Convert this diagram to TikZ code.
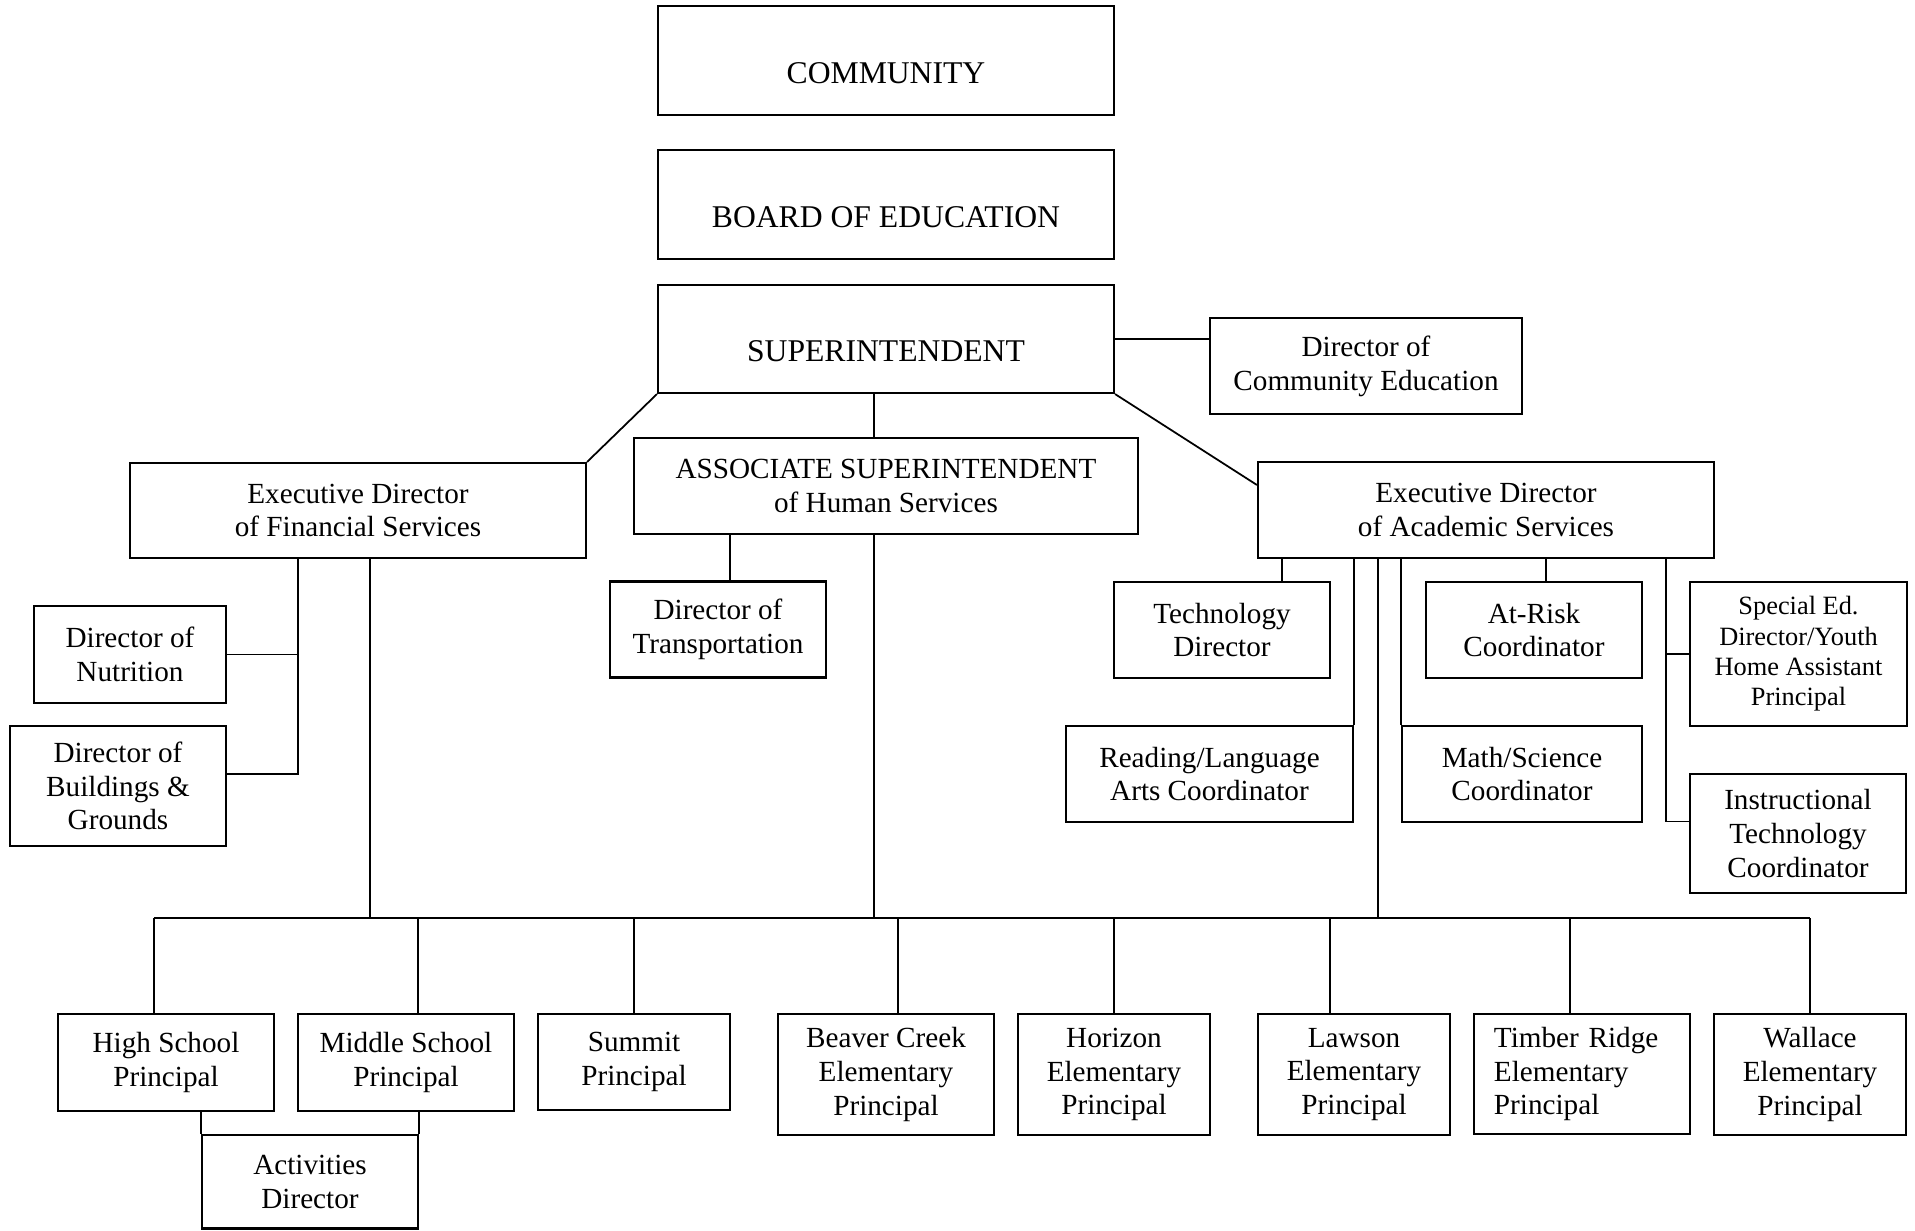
\documentclass[tikz,border=0pt]{standalone}
\usepackage{fontspec}
\setmainfont{Liberation Serif}
\usetikzlibrary{positioning}

\begin{document}
\begin{tikzpicture}[x=0.01cm, y=-0.01cm, font=\fontsize{8.3}{9.6}\selectfont,
  org/.style={draw, line width=0.6pt, inner sep=0pt, align=center},
  boxsize/.style 2 args={minimum width=#1*0.01cm, minimum height=#2*0.01cm},
  headbox/.style={org, font=\fontsize{9}{10.8}\selectfont, text height=0.45cm, text depth=0pt},
  link/.style={line width=0.5pt},
  busline/.style={line width=0.8pt}]
  \useasboundingbox (0,0) rectangle (1915,1230);
  % top of the chart
  \node[headbox, boxsize={456}{109}] (community) at (886,60.5) {COMMUNITY};
  \node[headbox, boxsize={456}{109}] (board) at (886,204.5) {BOARD OF EDUCATION};
  \node[headbox, boxsize={456}{108}] (super) at (886,339) {SUPERINTENDENT};
  \node[org, boxsize={312}{96}] (commed) at (1366,366) {Director of\\Community Education};
  % second level
  \node[org, boxsize={504}{96}] (assoc) at (886,486) {ASSOCIATE SUPERINTENDENT\\of Human Services};
  \node[org, boxsize={456}{95}] (fin) at (358,510.5) {Executive Director\\of Financial Services};
  \node[org, boxsize={456}{96}] (acad) at (1486,510) {Executive Director\\of Academic Services};
  % financial side
  \node[org, boxsize={192}{97}] (nutrition) at (130,654.5) {Director of\\Nutrition};
  \node[org, boxsize={216}{120}] (grounds) at (118,786) {Director of\\Buildings \&\\Grounds};
  % human services
  \node[org, boxsize={216}{96}] (transport) at (718,629.5) {Director of\\Transportation};
  % academic side
  \node[org, boxsize={216}{96}] (techdir) at (1222,630) {Technology\\Director};
  \node[org, boxsize={216}{96}] (atrisk) at (1534,630) {At-Risk\\Coordinator};
  \node[org, boxsize={217}{144}, font=\fontsize{7.5}{8.6}\selectfont] (speced) at (1798.5,654) {Special Ed.\\Director/Youth\\Home Assistant\\Principal};
  \node[org, boxsize={287}{96}] (reading) at (1209.5,774) {Reading/Language\\Arts Coordinator};
  \node[org, boxsize={240}{96}] (math) at (1522,774) {Math/Science\\Coordinator};
  \node[org, boxsize={216}{119}] (instr) at (1798,833.5) {Instructional\\Technology\\Coordinator};
  % principals
  \node[org, boxsize={216}{97}] (hs) at (166,1062.5) {High School\\Principal};
  \node[org, boxsize={216}{97}] (ms) at (406,1062.5) {Middle School\\Principal};
  \node[org, line width=0.8pt, boxsize={192}{96}] (summit) at (634,1062) {Summit\\Principal};
  \node[org, boxsize={216}{121}] (beaver) at (886,1074.5) {Beaver Creek\\Elementary\\Principal};
  \node[org, boxsize={192}{121}] (horizon) at (1114,1074.5) {Horizon\\Elementary\\Principal};
  \node[org, boxsize={192}{121}] (lawson) at (1354,1074.5) {Lawson\\Elementary\\Principal};
  \node[org, line width=0.8pt, align=left, text width=1.76cm, boxsize={216}{120}] (timber) at (1582,1074) {Timber Ridge\\Elementary\\Principal};
  \node[org, boxsize={192}{121}] (wallace) at (1810,1074.5) {Wallace\\Elementary\\Principal};
  \node[org, boxsize={216}{93.5}] (activities) at (310,1181.75) {Activities\\Director};

  % drop points
  \coordinate (bus) at (0,918);
  \coordinate (xtrans) at (730,0);
  \coordinate (xassoc) at (874,0);
  \coordinate (xfinA) at (298,0);
  \coordinate (xfinB) at (370,0);
  \coordinate (xtech) at (1282,0);
  \coordinate (xacad) at (1378,0);
  \coordinate (xrisk) at (1546,0);
  \coordinate (xspec) at (1666,0);

  % superintendent
  \draw[link] (super.east) -- (super.east -| commed.west);
  \draw[link] (super.south west) -- (fin.north east);
  \draw[link] (super.south east) -- ([yshift=0.25cm]acad.west);
  \draw[link] (xassoc |- super.south) -- (xassoc |- assoc.north);
  \draw[link] (xassoc |- assoc.south) -- (xassoc |- bus);
  \draw[link] (xtrans |- assoc.south) -- (xtrans |- transport.north);
  % financial
  \draw[link] (xfinA |- fin.south) |- ([yshift=0.12cm]grounds.east);
  \draw[link] (xfinA |- nutrition.east) -- (nutrition.east);
  \draw[link] (xfinB |- fin.south) -- (xfinB |- bus);
  % academic
  \draw[link] (xtech |- acad.south) -- (xtech |- techdir.north);
  \draw[link] (reading.north east |- acad.south) -- (reading.north east);
  \draw[link] (xacad |- acad.south) -- (xacad |- bus);
  \draw[link] (math.north west |- acad.south) -- (math.north west);
  \draw[link] (xrisk |- acad.south) -- (xrisk |- atrisk.north);
  \draw[link] (xspec |- acad.south) |- ([yshift=0.12cm]instr.west);
  \draw[link] (xspec |- speced.west) -- (speced.west);
  % principals
  \draw[busline] ([xshift=-0.12cm]hs.north |- bus) -- (wallace.north |- bus);
  \foreach \n/\dx in {hs/-12, ms/12, summit/0, beaver/12, horizon/0, lawson/-24, timber/-12, wallace/0}
    \draw[link] ([xshift=\dx*0.01cm]\n.north |- bus) -- ([xshift=\dx*0.01cm]\n.north);
  \draw[link] (activities.north west |- hs.south) -- (activities.north west);
  \draw[link] (activities.north east |- ms.south) -- (activities.north east);
\end{tikzpicture}
\end{document}
